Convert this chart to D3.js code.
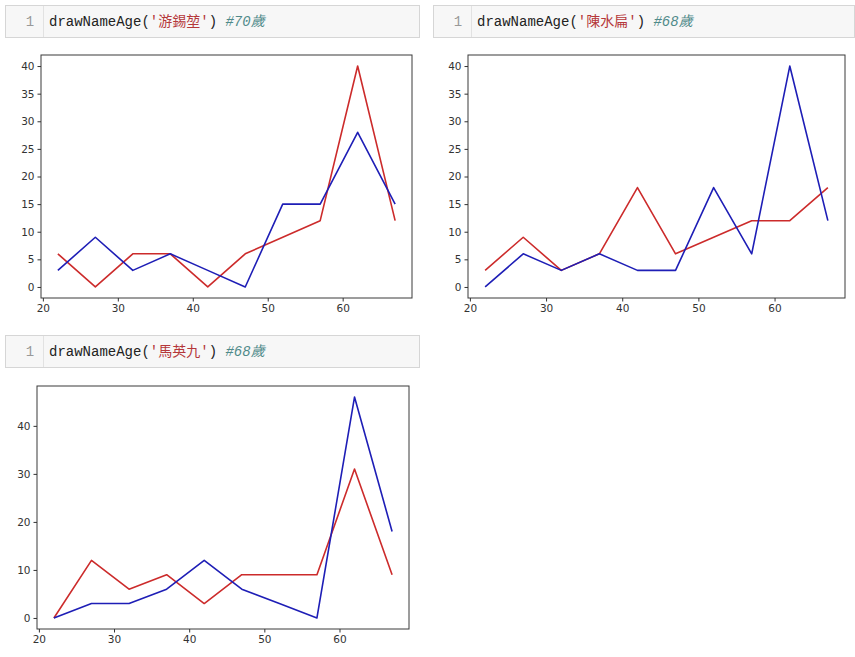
<!DOCTYPE html>
<html><head><meta charset="utf-8">
<script src="https://cdn.jsdelivr.net/npm/d3@7"></script>
<style>
html,body{margin:0;padding:0;background:#fff;}
svg{display:block;}
</style></head>
<body>
<script>
// ---- data ----
const ages = [22, 27, 32, 37, 42, 47, 52, 57, 62, 67];
const names = ['游錫堃', '陳水扁', '馬英九'];
const comments = ['#70歲', '#68歲', '#68歲'];
const xTicks = [20, 30, 40, 50, 60];
const yTicksA = [0, 5, 10, 15, 20, 25, 30, 35, 40];
const yTicksB = [0, 10, 20, 30, 40];
// 游錫堃
const youRed  = [6, 0, 6, 6, 0, 6, 9, 12, 40, 12];
const youBlue = [3, 9, 3, 6, 3, 0, 15, 15, 28, 15];
// 陳水扁
const chenRed  = [3, 9, 3, 6, 18, 6, 9, 12, 12, 18];
const chenBlue = [0, 6, 3, 6, 3, 3, 18, 6, 40, 12];
// 馬英九
const maRed  = [0, 12, 6, 9, 3, 9, 9, 9, 31, 9];
const maBlue = [0, 3, 3, 6, 12, 6, 3, 0, 46, 18];

const W = 855, H = 657;
const svg = d3.select('body').append('svg').attr('width', W).attr('height', H);
svg.append('rect').attr('width', W).attr('height', H).attr('fill', '#fff');

const RED = '#cc2b2b', BLUE = '#1e1eb6';

function header(x, y, w, name, comment) {
  const g = svg.append('g').attr('transform', `translate(${x},${y})`);
  g.append('rect').attr('x', 0.5).attr('y', 0.5).attr('width', w).attr('height', 32)
    .attr('fill', '#f7f7f7').attr('stroke', '#d6d6d6');
  g.append('line').attr('x1', 38.5).attr('x2', 38.5).attr('y1', 1).attr('y2', 32)
    .attr('stroke', '#e2e2e2');
  g.append('text').attr('x', 25).attr('y', 21).attr('text-anchor', 'middle')
    .attr('font-family', 'Liberation Mono, DejaVu Sans Mono, monospace')
    .attr('font-size', 14).attr('fill', '#999').text('1');
  const t = g.append('text').attr('x', 44).attr('y', 21)
    .attr('font-family', '"Liberation Mono", "DejaVu Sans Mono", "Noto Sans CJK TC", monospace')
    .attr('font-size', 14).attr('fill', '#222');
  t.append('tspan').text('drawNameAge(');
  t.append('tspan').attr('fill', '#b5373a').text("'" + name + "'");
  t.append('tspan').text(') ');
  t.append('tspan').attr('fill', '#4f8a8a').attr('font-style', 'italic').text(comment);
}

function panel(left, top, right, bottom, red, blue, yTicks) {
  const allVals = red.concat(blue);
  const [ymin, ymax] = d3.extent(allVals);
  const yPad = (ymax - ymin) * 0.05;
  const [xmin, xmax] = d3.extent(ages);
  const xPad = (xmax - xmin) * 0.05;
  const x = d3.scaleLinear().domain([xmin - xPad, xmax + xPad]).range([left, right]);
  const y = d3.scaleLinear().domain([ymin - yPad, ymax + yPad]).range([bottom, top]);
  const g = svg.append('g');
  const line = d3.line().x((d, i) => x(ages[i])).y(d => y(d));
  g.append('path').datum(red).attr('d', line).attr('fill', 'none')
    .attr('stroke', RED).attr('stroke-width', 1.6).attr('stroke-linejoin', 'round');
  g.append('path').datum(blue).attr('d', line).attr('fill', 'none')
    .attr('stroke', BLUE).attr('stroke-width', 1.6).attr('stroke-linejoin', 'round');
  g.append('rect').attr('x', left).attr('y', top).attr('width', right - left).attr('height', bottom - top)
    .attr('fill', 'none').attr('stroke', '#3a3a3a').attr('stroke-width', 1);
  const xa = g.append('g').attr('transform', `translate(0,${bottom})`)
    .call(d3.axisBottom(x).tickValues(xTicks).tickSize(3.5).tickPadding(3).tickFormat(d3.format('d')));
  const ya = g.append('g').attr('transform', `translate(${left},0)`)
    .call(d3.axisLeft(y).tickValues(yTicks).tickSize(3.5).tickPadding(3).tickFormat(d3.format('d')));
  [xa, ya].forEach(a => {
    a.select('.domain').remove();
    a.selectAll('line').attr('stroke', '#333');
    a.selectAll('text').attr('fill', '#333').attr('font-size', 10.5)
      .attr('font-family', 'DejaVu Sans, sans-serif');
  });
}

header(5, 5, 414, names[0], comments[0]);
header(433, 5, 421, names[1], comments[1]);
header(5, 335, 414, names[2], comments[2]);

panel(41, 55, 412, 298, youRed, youBlue, yTicksA);
panel(468, 55, 845, 298, chenRed, chenBlue, yTicksA);
panel(37, 386, 409, 629, maRed, maBlue, yTicksB);
</script>
</body></html>
